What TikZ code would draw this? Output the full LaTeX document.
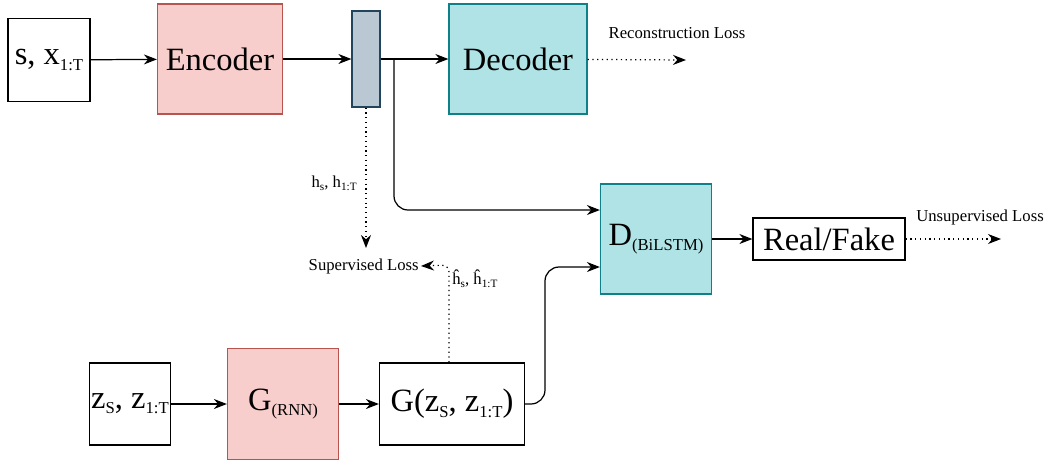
\documentclass[tikz,border=0pt]{standalone}
\usepackage{fontspec}
\setmainfont{Liberation Serif}
\usetikzlibrary{arrows.meta}

\definecolor{encfill}{HTML}{F8CECC}
\definecolor{encdraw}{HTML}{B85450}
\definecolor{decfill}{HTML}{B0E3E6}
\definecolor{decdraw}{HTML}{0E8088}
\definecolor{barfill}{HTML}{BAC8D3}
\definecolor{bardraw}{HTML}{23445D}

\newcommand{\bigtxt}{\fontsize{18.5}{22}\selectfont}
\newcommand{\smalltxt}{\fontsize{9.5}{11}\selectfont}
% subscripts for the big and the small labels
\newcommand{\lo}[1]{\raisebox{-0.35ex}{\fontsize{9.5}{10}\selectfont #1}}
\newcommand{\slo}[1]{\raisebox{-0.35ex}{\fontsize{6.4}{7}\selectfont #1}}

\tikzset{
  plain/.style={draw=black, fill=white, inner sep=0pt, font=\bigtxt},
  redbox/.style={draw=encdraw, fill=encfill, inner sep=0pt, font=\bigtxt},
  tealbox/.style={draw=decdraw, fill=decfill, inner sep=0pt, font=\bigtxt},
  lossline/.style={->, dotted},
  losstxt/.style={font=\smalltxt, inner sep=1pt}
}

\begin{document}
\begin{tikzpicture}[x=0.2mm, y=-0.2mm, line width=0.7pt,
  >={Stealth[length=2.6mm, width=2mm]}]

\useasboundingbox (0,0) rectangle (1055,462);

% top row
\node[plain, minimum width=16.4mm, minimum height=16.6mm] (sx) at (49,60) {s, x\lo{1:T}};
\node[redbox, minimum width=25mm, minimum height=22mm] (enc) at (220,59) {Encoder};
\node[draw=bardraw, fill=barfill, minimum width=5.6mm, minimum height=19.2mm, inner sep=0pt] (bar) at (366,59) {};
\node[tealbox, minimum width=27.6mm, minimum height=22mm] (dec) at (518,59) {Decoder};

% discriminator
\node[tealbox, minimum width=22.2mm, minimum height=22mm] (disc) at (656,239) {D\lo{(BiLSTM)}};
\node[plain, minimum width=30.4mm, minimum height=8.4mm] (rf) at (829,239) {Real/Fake};

% bottom row
\node[plain, minimum width=16.2mm, minimum height=16.4mm] (zin) at (130,404) {z\lo{S}, z\lo{1:T}};
\node[redbox, minimum width=22.2mm, minimum height=22.2mm] (gen) at (283,404) {G\lo{(RNN)}};
\node[plain, minimum width=29mm, minimum height=16.4mm] (gout) at (452,404) {G(z\lo{S}, z\lo{1:T})};

% loss labels
\node[losstxt] (recloss) at (677,33) {Reconstruction Loss};
\node[losstxt] (unsloss) at (980,217) {Unsupervised Loss};
\node[losstxt, anchor=east] (suploss) at (421,266) {Supervised Loss};
\node[losstxt, anchor=east] (hreal) at (359,183) {h\slo{s}, h\slo{1:T}};
\node[losstxt, anchor=west] (hfake) at (450,279) {\^{h}\slo{s}, \^{h}\slo{1:T}};

\coordinate (recend) at (686,60);
\coordinate (unsend) at (1001,239);
\coordinate (split) at (394,59);

% connectors
\draw[->] (sx) -- (enc);
\draw[->] (enc) -- (bar);
\draw[->] (bar) -- (dec);
\draw[->, rounded corners=8] (split) |- (disc.west |- 0,210);
\draw[->] (disc) -- (rf);
\draw[->] (zin) -- (gen);
\draw[->] (gen) -- (gout);
\draw[->, rounded corners=8] (gout.east) -- (545,404) |- (disc.west |- 0,267);

% losses
\draw[lossline] (dec) -- (recend);
\draw[lossline] (rf) -- (unsend);
\draw[lossline] (bar.south) -- (366,248);
\draw[lossline, rounded corners=4] (gout.north -| 449,0) -- (449,265) -- (suploss.east);

\end{tikzpicture}
\end{document}
